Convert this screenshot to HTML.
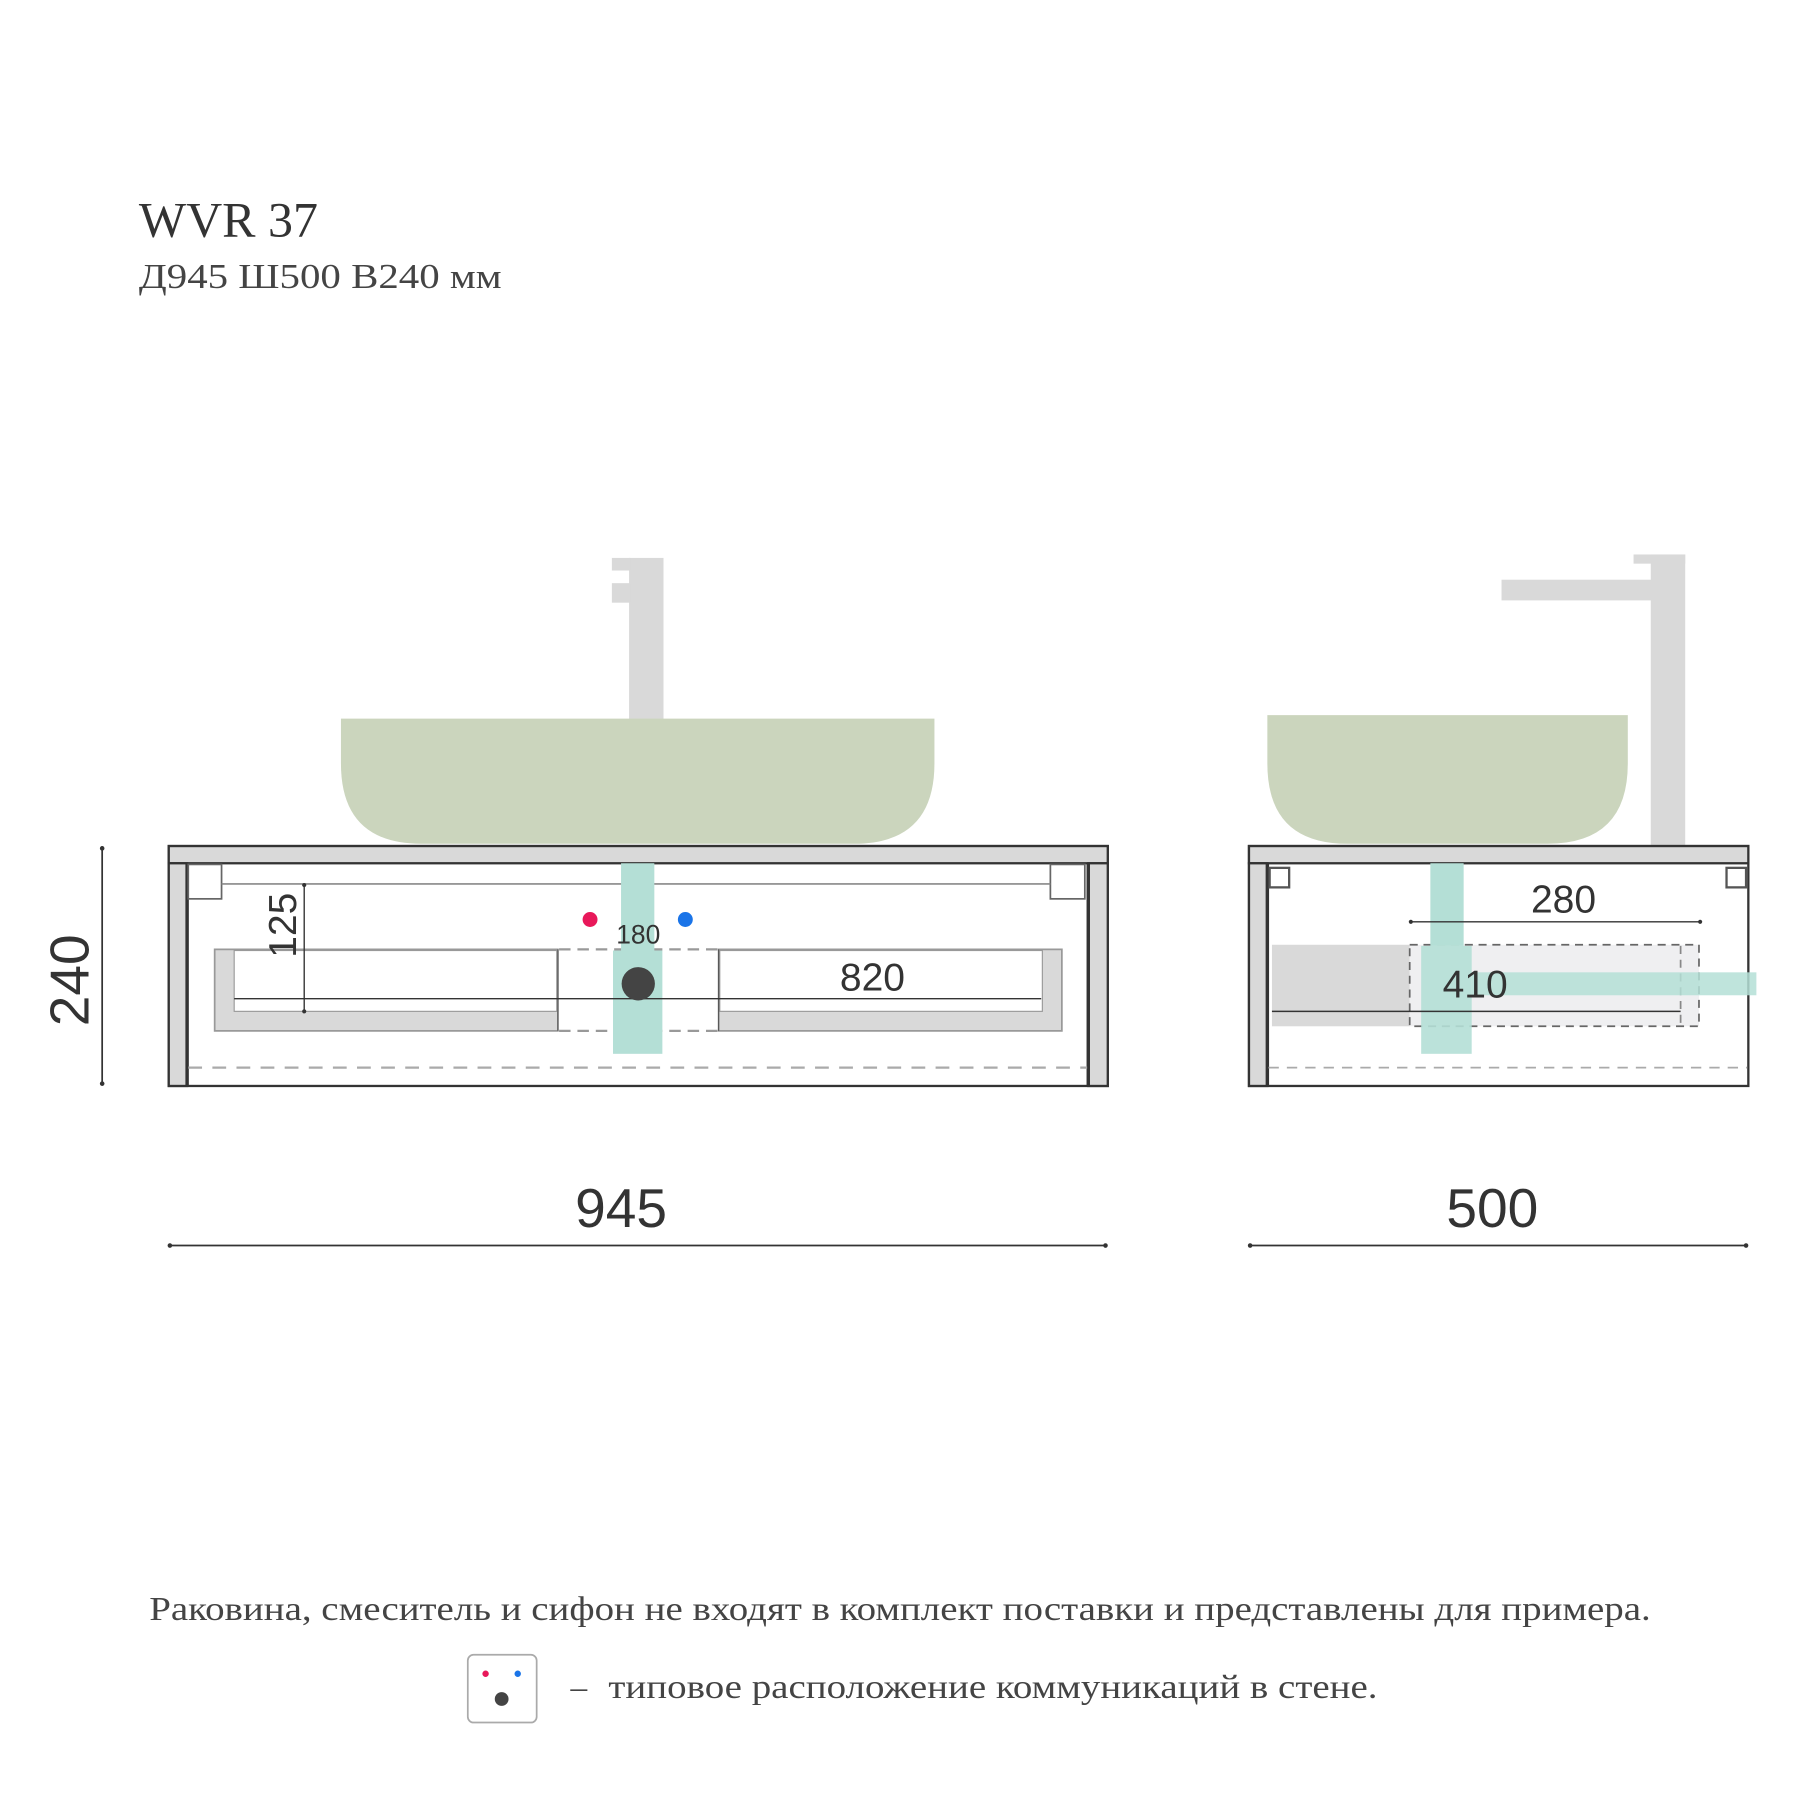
<!DOCTYPE html>
<html><head><meta charset="utf-8"><style>
html,body{margin:0;padding:0;background:#fff;}
svg{display:block;}
</style></head><body>
<svg width="1800" height="1800" viewBox="0 0 1568 1568" xmlns="http://www.w3.org/2000/svg">
<rect width="1568" height="1568" fill="#fff"/>
<text x="121" y="206" font-family="Liberation Serif, serif" font-size="43" fill="#333" textLength="156" lengthAdjust="spacingAndGlyphs">WVR 37</text>
<text x="121" y="251" font-family="Liberation Serif, serif" font-size="30" fill="#444" textLength="316" lengthAdjust="spacingAndGlyphs">Д945 Ш500 В240 мм</text>

<!-- LEFT VIEW -->
<rect x="548" y="486" width="30" height="141" fill="#d9d9d9"/>
<rect x="533" y="486" width="16" height="11" fill="#d9d9d9"/>
<rect x="533" y="508" width="16" height="17" fill="#d9d9d9"/>
<path d="M297 626 H814 V665 Q814 735 744 735 H367 Q297 735 297 665 Z" fill="#cbd5bd"/>
<rect x="147" y="737" width="818" height="209" fill="#fff" stroke="#333" stroke-width="2"/>
<rect x="147" y="737" width="818" height="15" fill="#d9d9d9" stroke="#333" stroke-width="2"/>
<rect x="147" y="752" width="16" height="194" fill="#d9d9d9" stroke="#333" stroke-width="2"/>
<rect x="948" y="752" width="17" height="194" fill="#d9d9d9" stroke="#333" stroke-width="2"/>
<line x1="163" y1="752" x2="163" y2="946" stroke="#333" stroke-width="3"/>
<line x1="948" y1="752" x2="948" y2="946" stroke="#333" stroke-width="3"/>
<rect x="164" y="753" width="29" height="30" fill="none" stroke="#666" stroke-width="1.5"/>
<rect x="915" y="753" width="30" height="30" fill="none" stroke="#666" stroke-width="1.5"/>
<line x1="193" y1="770" x2="915" y2="770" stroke="#888" stroke-width="1.5"/>
<path d="M187 827 H486 V898 H187 Z" fill="#d9d9d9" stroke="#999" stroke-width="1.5"/>
<rect x="204" y="828" width="281" height="53" fill="#fff" stroke="#999" stroke-width="1"/>
<path d="M626 827 H925 V898 H626 Z" fill="#d9d9d9" stroke="#999" stroke-width="1.5"/>
<rect x="627" y="828" width="281" height="53" fill="#fff" stroke="#999" stroke-width="1"/>
<line x1="486" y1="827" x2="486" y2="898" stroke="#555" stroke-width="1"/>
<line x1="626" y1="827" x2="626" y2="898" stroke="#555" stroke-width="1"/>
<line x1="487" y1="827" x2="625" y2="827" stroke="#999" stroke-width="2" stroke-dasharray="10 6"/>
<line x1="487" y1="898" x2="625" y2="898" stroke="#999" stroke-width="2" stroke-dasharray="10 6"/>
<rect x="541" y="752" width="29" height="76" fill="#b4dfd6"/>
<rect x="534" y="828" width="43" height="90" fill="#b4dfd6"/>
<line x1="204" y1="870" x2="907" y2="870" stroke="#333" stroke-width="1.2"/>
<text x="760" y="863" text-anchor="middle" font-family="Liberation Sans, sans-serif" font-size="34" fill="#333">820</text>
<line x1="265" y1="771" x2="265" y2="881" stroke="#333" stroke-width="1.2"/>
<circle cx="265" cy="771" r="1.8" fill="#333"/><circle cx="265" cy="881" r="1.8" fill="#333"/>
<text transform="translate(258,806) rotate(-90)" text-anchor="middle" font-family="Liberation Sans, sans-serif" font-size="34" fill="#333">125</text>
<circle cx="514" cy="801" r="6.5" fill="#e8185a"/>
<circle cx="597" cy="801" r="6.5" fill="#1a74e8"/>
<text x="556" y="822" text-anchor="middle" font-family="Liberation Sans, sans-serif" font-size="23" fill="#333">180</text>
<circle cx="556" cy="857" r="14.5" fill="#444"/>
<line x1="164" y1="930" x2="947" y2="930" stroke="#aaa" stroke-width="2" stroke-dasharray="12 9"/>
<line x1="89" y1="739" x2="89" y2="944" stroke="#333" stroke-width="1.5"/>
<circle cx="89" cy="739" r="2" fill="#333"/><circle cx="89" cy="944" r="2" fill="#333"/>
<text transform="translate(77,854) rotate(-90)" text-anchor="middle" font-family="Liberation Sans, sans-serif" font-size="48" fill="#333">240</text>
<text x="541" y="1069" text-anchor="middle" font-family="Liberation Sans, sans-serif" font-size="48" fill="#333">945</text>
<line x1="148" y1="1085" x2="963" y2="1085" stroke="#333" stroke-width="1.5"/>
<circle cx="148" cy="1085" r="2" fill="#333"/><circle cx="963" cy="1085" r="2" fill="#333"/>

<!-- RIGHT VIEW -->
<rect x="1438" y="483" width="30" height="253" fill="#d9d9d9"/>
<rect x="1423" y="483" width="45" height="8" fill="#d9d9d9"/>
<rect x="1308" y="505" width="131" height="18" fill="#d9d9d9"/>
<path d="M1104 623 H1418 V665 Q1418 735 1348 735 H1174 Q1104 735 1104 665 Z" fill="#cbd5bd"/>
<rect x="1088" y="737" width="435" height="209" fill="#fff" stroke="#333" stroke-width="2"/>
<rect x="1088" y="737" width="435" height="15" fill="#d9d9d9" stroke="#333" stroke-width="2"/>
<rect x="1088" y="752" width="16" height="194" fill="#d9d9d9" stroke="#333" stroke-width="2"/>
<line x1="1104" y1="752" x2="1104" y2="946" stroke="#333" stroke-width="3"/>
<rect x="1106" y="756" width="17" height="17" fill="none" stroke="#555" stroke-width="2"/>
<rect x="1504" y="756" width="17" height="17" fill="none" stroke="#555" stroke-width="2"/>
<rect x="1108" y="823" width="120" height="71" fill="#d9d9d9"/>
<rect x="1228" y="823" width="252" height="71" fill="#efeff1" stroke="#666" stroke-width="1.5" stroke-dasharray="7 5"/>
<line x1="1464" y1="824" x2="1464" y2="893" stroke="#888" stroke-width="1.5" stroke-dasharray="7 5"/>
<rect x="1246" y="752" width="29" height="72" fill="#b4dfd6"/>
<rect x="1238" y="824" width="44" height="94" fill="#b4dfd6" opacity="0.9"/>
<rect x="1282" y="847" width="248" height="20" fill="#b4dfd6" opacity="0.85"/>
<line x1="1229" y1="803" x2="1481" y2="803" stroke="#333" stroke-width="1.3"/>
<circle cx="1229" cy="803" r="1.8" fill="#333"/><circle cx="1481" cy="803" r="1.8" fill="#333"/>
<text x="1362" y="795" text-anchor="middle" font-family="Liberation Sans, sans-serif" font-size="34" fill="#333">280</text>
<line x1="1108" y1="881" x2="1464" y2="881" stroke="#333" stroke-width="1.3"/>
<text x="1285" y="869" text-anchor="middle" font-family="Liberation Sans, sans-serif" font-size="34" fill="#333">410</text>
<line x1="1105" y1="930" x2="1522" y2="930" stroke="#aaa" stroke-width="1.5" stroke-dasharray="9 7"/>
<text x="1300" y="1069" text-anchor="middle" font-family="Liberation Sans, sans-serif" font-size="48" fill="#333">500</text>
<line x1="1089" y1="1085" x2="1521" y2="1085" stroke="#333" stroke-width="1.5"/>
<circle cx="1089" cy="1085" r="2" fill="#333"/><circle cx="1521" cy="1085" r="2" fill="#333"/>

<!-- footer -->
<text x="130" y="1411" font-family="Liberation Serif, serif" font-size="29" fill="#444" textLength="1308" lengthAdjust="spacingAndGlyphs">Раковина, смеситель и сифон не входят в комплект поставки и представлены для примера.</text>
<rect x="407.5" y="1441.5" width="60" height="59" rx="5" fill="#fff" stroke="#aaa" stroke-width="1.5"/>
<circle cx="423" cy="1458" r="2.8" fill="#e8185a"/>
<circle cx="451" cy="1458" r="2.8" fill="#1a74e8"/>
<circle cx="437" cy="1480" r="6" fill="#444"/>
<text x="497" y="1479" font-family="Liberation Serif, serif" font-size="29" fill="#444">–</text>
<text x="530" y="1479" font-family="Liberation Serif, serif" font-size="29" fill="#444" textLength="670" lengthAdjust="spacingAndGlyphs">типовое расположение коммуникаций в стене.</text>
</svg>
</body></html>
